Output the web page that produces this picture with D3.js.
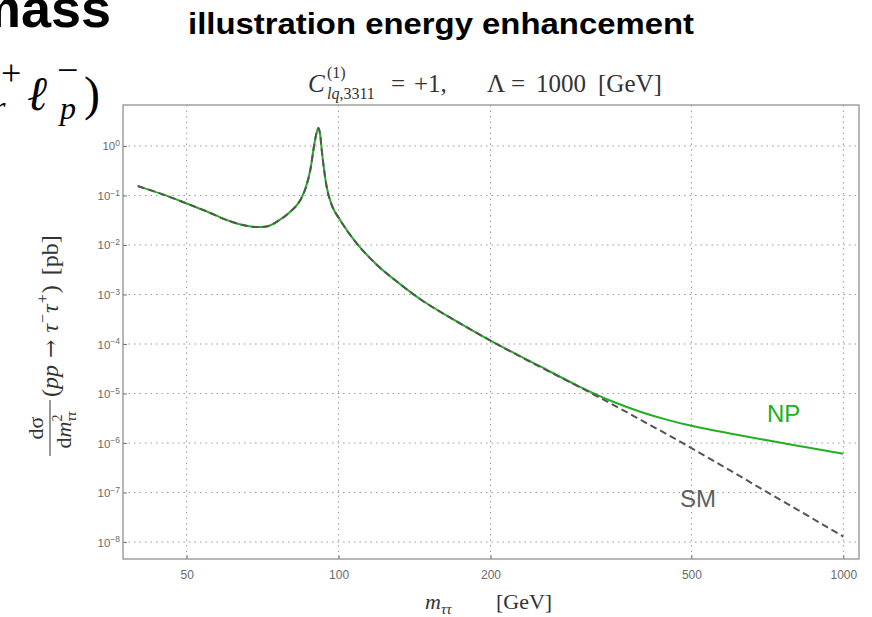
<!DOCTYPE html>
<html>
<head>
<meta charset="utf-8">
<script src="https://cdn.jsdelivr.net/npm/d3@7"></script>
<style>
  body { margin: 0; background: #fff; }
  svg { display: block; }
</style>
</head>
<body>
<div id="chart"></div>
<script>
// m_tautau in GeV, cross sections in pb
const mass = [40, 45, 50, 55, 60, 65, 69, 72, 76, 80, 84, 86, 88, 89.5, 90.5, 91.2, 92, 92.6, 94.7, 97,
  100.7, 108.7, 119, 132, 145, 170, 200, 250, 300, 350, 400, 450, 500, 600, 725, 850, 1000];
const smValues = [1.55e-1, 1.04e-1, 6.9e-2, 4.7e-2, 3.2e-2, 2.5e-2, 2.3e-2, 2.37e-2, 3.1e-2, 4.6e-2, 8.1e-2, 1.4e-1, 3.5e-1, 1.07, 1.9, 2.3, 1.6, 8.3e-1, 1.5e-1, 6.3e-2,
  3.2e-2, 1.07e-2, 4.0e-3, 1.66e-3, 8.1e-4, 3.0e-4, 1.17e-4, 3.5e-5, 1.35e-5, 5.9e-6, 2.8e-6, 1.45e-6, 7.9e-7, 2.7e-7, 8.7e-8, 3.4e-8, 1.29e-8];
const npValues = [1.55e-1, 1.04e-1, 6.9e-2, 4.7e-2, 3.2e-2, 2.5e-2, 2.3e-2, 2.37e-2, 3.1e-2, 4.6e-2, 8.1e-2, 1.4e-1, 3.5e-1, 1.07, 1.9, 2.3, 1.6, 8.3e-1, 1.5e-1, 6.3e-2,
  3.2e-2, 1.07e-2, 4.0e-3, 1.66e-3, 8.1e-4, 3.0e-4, 1.17e-4, 3.6e-5, 1.38e-5, 6.8e-6, 4.14e-6, 2.9e-6, 2.23e-6, 1.54e-6, 1.08e-6, 8.15e-7, 6.08e-7];
const xTicks = [50, 100, 200, 500, 1000];
const yExponents = [0, -1, -2, -3, -4, -5, -6, -7, -8];

const width = 872, height = 617;
const frame = { left: 123, right: 859, top: 105, bottom: 559 };

const svg = d3.select("#chart").append("svg")
    .attr("width", width)
    .attr("height", height);

const x = d3.scaleLog()
    .domain([37.4, 1074])
    .range([frame.left, frame.right]);

const y = d3.scaleLog()
    .domain([Math.pow(10, -8.343), Math.pow(10, 0.828)])
    .range([frame.bottom, frame.top]);

const serif = "'Liberation Serif', 'DejaVu Serif', serif";
const sans = "'Liberation Sans', Arial, Helvetica, sans-serif";

// slide heading bits around the figure
svg.append("text")
    .attr("x", 111).attr("y", 27)
    .attr("text-anchor", "end")
    .style("font-family", sans).style("font-weight", "bold").style("font-size", "54px")
    .text("mass");

svg.append("text")
    .attr("x", 188).attr("y", 34)
    .attr("textLength", 506).attr("lengthAdjust", "spacingAndGlyphs")
    .style("font-family", sans).style("font-weight", "bold").style("font-size", "30px")
    .text("illustration energy enhancement");

const lep = svg.append("g").style("font-family", serif).style("font-style", "italic");
lep.append("text").attr("x", -7).attr("y", 118).style("font-size", "32px").text("r");
lep.append("text").attr("x", 1).attr("y", 85).style("font-size", "36px").style("font-style", "normal").text("+");
lep.append("text").attr("x", 27).attr("y", 110).style("font-size", "48px").text("ℓ");
lep.append("text").attr("x", 57).attr("y", 83).style("font-size", "38px").style("font-style", "normal").text("−");
lep.append("text").attr("x", 60).attr("y", 119).style("font-size", "32px").text("p");
lep.append("text").attr("x", 84).attr("y", 110).style("font-size", "48px").style("font-style", "normal").text(")");

// grid
const grid = svg.append("g")
    .style("stroke", "#9a9a9a")
    .style("stroke-width", 1)
    .style("stroke-dasharray", "1.5,4");

grid.selectAll(".vgrid")
    .data(xTicks)
  .enter().append("line")
    .attr("x1", function(d) { return x(d); })
    .attr("x2", function(d) { return x(d); })
    .attr("y1", frame.top)
    .attr("y2", frame.bottom);

grid.selectAll(".hgrid")
    .data(yExponents)
  .enter().append("line")
    .attr("x1", frame.left)
    .attr("x2", frame.right)
    .attr("y1", function(d) { return y(Math.pow(10, d)); })
    .attr("y2", function(d) { return y(Math.pow(10, d)); });

// axes (inside ticks)
const xAxis = svg.append("g")
    .attr("transform", "translate(0," + frame.bottom + ")")
    .call(d3.axisBottom(x).tickValues(xTicks).tickSize(-4).tickPadding(11).tickFormat(d3.format("d")));

xAxis.select(".domain").remove();
xAxis.selectAll(".tick line").style("stroke", "#777");
xAxis.selectAll(".tick text")
    .style("font-family", sans).style("font-size", "12px").style("fill", "#6a6a6a");

const yAxis = svg.append("g")
    .attr("transform", "translate(" + frame.left + ",0)")
    .call(d3.axisLeft(y).tickValues(yExponents.map(function(e) { return Math.pow(10, e); }))
      .tickSize(-4).tickPadding(4).tickFormat(""));

yAxis.select(".domain").remove();
yAxis.selectAll(".tick line").style("stroke", "#777");
yAxis.selectAll(".tick text").remove();

const yLabels = svg.append("g")
    .style("font-family", sans).style("fill", "#6a6a6a");

yLabels.selectAll("text")
    .data(yExponents)
  .enter().append("text")
    .attr("x", frame.left - 3)
    .attr("y", function(d) { return y(Math.pow(10, d)) + 4.5; })
    .attr("text-anchor", "end")
    .style("font-size", "11.5px")
    .each(function(d) {
      const t = d3.select(this);
      t.append("tspan").text("10");
      t.append("tspan")
        .attr("dy", "-0.5em")
        .style("font-size", "8.5px")
        .text(d === 0 ? "0" : "−" + Math.abs(d));
    });

// frame
svg.append("rect")
    .attr("x", frame.left).attr("y", frame.top)
    .attr("width", frame.right - frame.left)
    .attr("height", frame.bottom - frame.top)
    .style("fill", "none")
    .style("stroke", "#888")
    .style("stroke-width", 1.2);

// curves
svg.append("clipPath").attr("id", "clip")
  .append("rect")
    .attr("x", frame.left).attr("y", frame.top)
    .attr("width", frame.right - frame.left)
    .attr("height", frame.bottom - frame.top);

const line = d3.line()
    .x(function(d) { return x(d[0]); })
    .y(function(d) { return y(d[1]); })
    .curve(d3.curveMonotoneX);

const plot = svg.append("g").attr("clip-path", "url(#clip)");

plot.append("path")
    .datum(d3.zip(mass, npValues))
    .attr("d", line)
    .style("fill", "none")
    .style("stroke", "#22b022")
    .style("stroke-width", 2);

plot.append("path")
    .datum(d3.zip(mass, smValues))
    .attr("d", line)
    .style("fill", "none")
    .style("stroke", "#555")
    .style("stroke-width", 2)
    .style("stroke-dasharray", "7,4");

svg.append("text")
    .attr("x", 767).attr("y", 422)
    .style("font-family", sans).style("font-size", "24px").style("fill", "#22b022")
    .text("NP");

svg.append("text")
    .attr("x", 680).attr("y", 507)
    .style("font-family", sans).style("font-size", "24px").style("fill", "#606060")
    .text("SM");

// title
const title = svg.append("g").style("font-family", serif).style("fill", "#333");
title.append("text").attr("x", 308).attr("y", 92).style("font-size", "25px").style("font-style", "italic").text("C");
title.append("text").attr("x", 327).attr("y", 78).style("font-size", "16px").text("(1)");
title.append("text").attr("x", 327).attr("y", 99).style("font-size", "16px").style("font-style", "italic")
    .text("lq")
  .append("tspan").style("font-style", "normal").text(",3311");
title.append("text").attr("x", 391).attr("y", 92).style("font-size", "25px").text("=");
title.append("text").attr("x", 414).attr("y", 92).style("font-size", "25px").text("+1,");
title.append("text").attr("x", 487).attr("y", 92).style("font-size", "25px").text("Λ");
title.append("text").attr("x", 511).attr("y", 92).style("font-size", "25px").text("=");
title.append("text").attr("x", 536).attr("y", 92).style("font-size", "25px").text("1000");
title.append("text").attr("x", 598).attr("y", 92).style("font-size", "25px").text("[GeV]");

// x label
const xl = svg.append("text")
    .attr("x", 425).attr("y", 609)
    .style("font-family", serif).style("font-size", "22px").style("fill", "#333");
xl.append("tspan").style("font-style", "italic").text("m");
xl.append("tspan").attr("dy", 5).style("font-size", "15px").style("font-style", "italic").text("ττ");
xl.append("tspan").attr("dy", -5).attr("x", 496).text("[GeV]");

// y label (rotated)
const yl = svg.append("g")
    .attr("transform", "translate(56,0) rotate(-90)")
    .style("font-family", serif).style("fill", "#333");

yl.append("text").attr("x", -428).attr("y", -13).attr("text-anchor", "middle")
    .style("font-size", "22px").text("dσ");
yl.append("line").attr("x1", -456).attr("x2", -400).attr("y1", -6).attr("y2", -6)
    .style("stroke", "#333").style("stroke-width", 1);
const den = yl.append("text").attr("x", -430).attr("y", 15).attr("text-anchor", "middle")
    .style("font-size", "22px");
den.append("tspan").text("d");
den.append("tspan").style("font-style", "italic").text("m");
den.append("tspan").attr("dy", -9).style("font-size", "14px").text("2");
den.append("tspan").attr("dx", -7).attr("dy", 14).style("font-size", "14px").style("font-style", "italic").text("ττ");

const main = yl.append("text").attr("x", -397).attr("y", 2).style("font-size", "24px");
main.append("tspan").text("(");
main.append("tspan").style("font-style", "italic").text("pp");
main.append("tspan").attr("dx", 7).style("font-family", "'DejaVu Serif', serif").style("font-size", "22px").text("→");
main.append("tspan").attr("dx", 7).style("font-style", "italic").text("τ");
main.append("tspan").attr("dx", 1).attr("dy", -10).style("font-size", "16px").text("−");
main.append("tspan").attr("dx", 1).attr("dy", 10).style("font-style", "italic").text("τ");
main.append("tspan").attr("dx", 1).attr("dy", -10).style("font-size", "16px").text("+");
main.append("tspan").attr("dx", 1).attr("dy", 10).text(")");
main.append("tspan").attr("dx", 10).text("[pb]");
</script>
</body>
</html>
